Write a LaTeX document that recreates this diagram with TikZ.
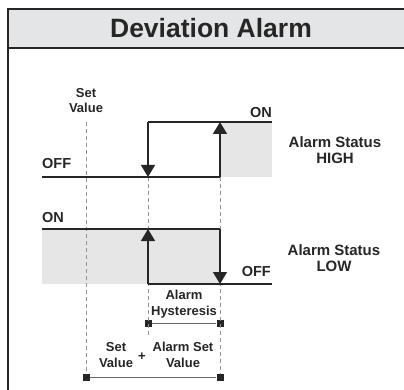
\documentclass[tikz,border=0pt]{standalone}
\usepackage{fontspec}
\setmainfont{Liberation Sans}
\usetikzlibrary{arrows.meta}

\definecolor{bandgray}{HTML}{E4E5E6}
\definecolor{fillgray}{HTML}{E6E6E6}
\definecolor{ink}{HTML}{262626}

\tikzset{
  lvl/.style={draw=ink,line width=1.3pt},
  tip/.style={lvl,-{Triangle[width=14pt,length=12pt]}},
  guide/.style={draw=gray!85,line width=0.9pt,dash pattern=on 4pt off 3pt},
  dimline/.style={draw=gray!80!black,line width=1pt},
  endmark/.style={fill=ink,minimum size=7pt,inner sep=0pt,rectangle},
  state/.style={font=\bfseries\fontsize{14.5}{15}\selectfont,text=ink,inner sep=0pt},
  dimlbl/.style={font=\bfseries\fontsize{13}{15.5}\selectfont,text=ink,align=center,inner sep=0pt},
  status/.style={font=\bfseries\fontsize{15}{16}\selectfont,text=ink,align=center,inner sep=0pt},
}

\begin{document}
\begin{tikzpicture}[x=1pt,y=-1pt]
\useasboundingbox (0,0) rectangle (404,390);

% title band and frame
\fill[bandgray] (8,9) rectangle (404,48);
\draw[ink,line width=2pt] (404,9) -- (8,9) -- (8,48) -- (404,48);
\draw[ink,line width=1.5pt] (8,48) -- (8,390);
\node[font=\bfseries\fontsize{26.5}{30}\selectfont,text=ink] (title) at (211,28) {Deviation Alarm};

% level points, high alarm
\coordinate (h1) at (42,177);
\coordinate (h2) at (148,177);
\coordinate (h3) at (220,177);
\coordinate (h4) at (148,122);
\coordinate (h5) at (220,122);
\coordinate (h6) at (272,122);
% level points, low alarm
\coordinate (l1) at (42,229);
\coordinate (l2) at (148,229);
\coordinate (l3) at (220,229);
\coordinate (l4) at (148,284);
\coordinate (l5) at (220,284);
\coordinate (l6) at (272,284);

\fill[fillgray] (h5) rectangle (272,177);
\fill[fillgray] (l1) rectangle (l5);

% dimension ends
\node[endmark] (hys1) at (148,323) {};
\node[endmark] (hys2) at (220,323) {};
\node[endmark] (sv1) at (86,377) {};
\node[endmark] (sv2) at (220,377) {};
\coordinate (sv0) at (86,122);
\coordinate (hys0) at (148,338);

% guide lines
\draw[guide] (sv0) -- (sv1);
\draw[guide] (h2) -- (hys0);
\draw[guide] (h3) -- (sv2);

% high
\draw[lvl] (h1) -- (h3);
\draw[lvl] (h4) -- (h6);
\draw[tip] (h4) -- (h2);
\draw[tip] (h3) -- (h5);
% low
\draw[lvl] (l1) -- (l3);
\draw[lvl] (l4) -- (l6);
\draw[tip] (l4) -- (l2);
\draw[tip] (l3) -- (l5);

\draw[dimline] (hys1) -- (hys2);
\draw[dimline] (sv1) -- (sv2);

% labels
\node[dimlbl] (svtop) at (86,100.5) {Set\\Value};
\node[state,anchor=west] (hoff) at (42,164) {OFF};
\node[state,anchor=east] (hon) at (272,112.5) {ON};
\node[state,anchor=west] (lon) at (42,218) {ON};
\node[state,anchor=east] (loff) at (271,272) {OFF};
\node[status] (high) at (335,150) {Alarm Status\\HIGH};
\node[status] (low) at (334,258) {Alarm Status\\LOW};
\node[dimlbl] (hys) at (184,304) {Alarm\\Hysteresis};
\node[dimlbl] (svb) at (116,355) {Set\\Value};
\node[dimlbl] (plus) at (142,357) {+};
\node[dimlbl] (asv) at (183,355) {Alarm Set\\Value};
\end{tikzpicture}
\end{document}
